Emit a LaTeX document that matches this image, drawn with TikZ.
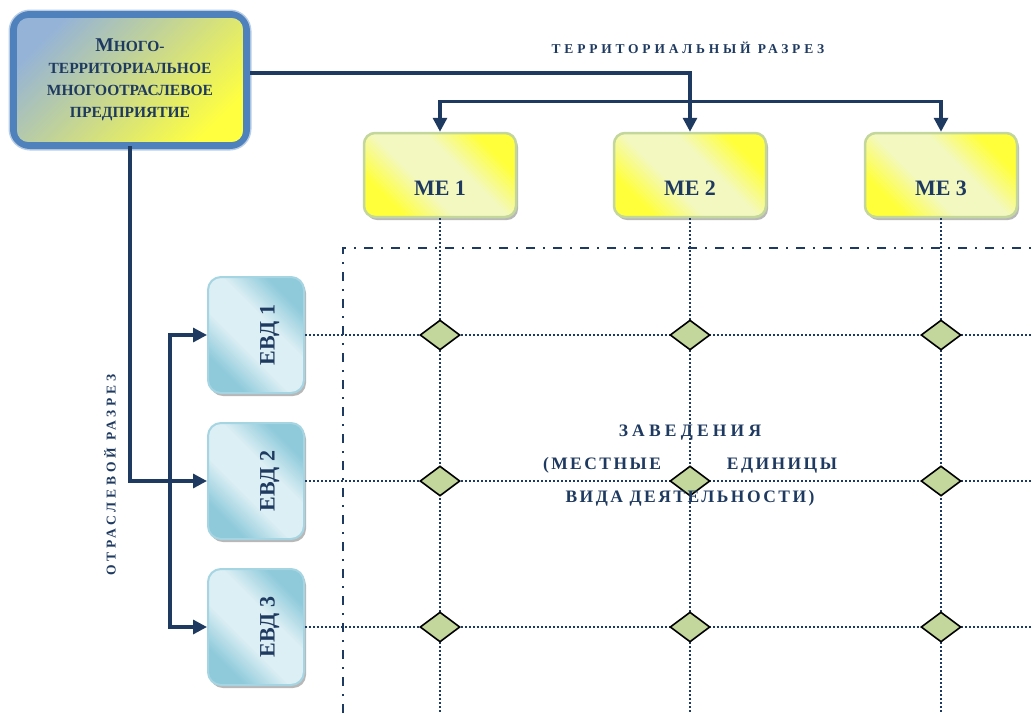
\documentclass[tikz,border=0pt]{standalone}
\usepackage{fontspec}
\setmainfont{Liberation Serif}
\usetikzlibrary{arrows.meta,shapes.geometric,shadows,calc}
\definecolor{navy}{HTML}{1F3A60}
\definecolor{mainblue}{HTML}{4F81BD}
\definecolor{halo}{HTML}{B9CDE5}
\definecolor{maintop}{HTML}{95B3D7}
\definecolor{mainbot}{HTML}{FFFF40}
\definecolor{meyel}{HTML}{FFFF3A}
\definecolor{mepale}{HTML}{F3F8C0}
\definecolor{meborder}{HTML}{C3D69B}
\definecolor{evdedge}{HTML}{8FCADB}
\definecolor{evdpale}{HTML}{DCEFF4}
\definecolor{evdborder}{HTML}{A5D5E2}
\definecolor{junc}{HTML}{C3D69B}
\pgfdeclarehorizontalshading{meshade}{100bp}{color(0bp)=(meyel); color(27bp)=(meyel); color(42bp)=(mepale); color(58bp)=(mepale); color(73bp)=(meyel); color(100bp)=(meyel)}
\pgfdeclarehorizontalshading{evdshade}{100bp}{color(0bp)=(evdedge); color(27bp)=(evdedge); color(42bp)=(evdpale); color(58bp)=(evdpale); color(73bp)=(evdedge); color(100bp)=(evdedge)}
\begin{document}
\begin{tikzpicture}[x=1pt,y=-1pt,
  >={Triangle[length=14pt,width=14pt]},
  conn/.style={draw=navy, line width=3.2pt},
  gridline/.style={draw=navy, line width=2.4pt, dash pattern=on 2pt off 2pt},
  framedash/.style={draw=navy, line width=2pt, dash pattern=on 9pt off 8pt on 2pt off 8pt},
  mainbox/.style={rectangle, rounded corners=17pt, draw=mainblue, line width=6pt,
    preaction={draw=halo, line width=9pt},
    top color=maintop, bottom color=mainbot, shading angle=45,
    minimum width=234pt, minimum height=132pt, inner sep=0pt, align=center,
    text=navy, font=\fontsize{15.5}{22}\selectfont\bfseries},
  mebox/.style={rectangle, rounded corners=11pt, draw=meborder, line width=2.5pt,
    shading=meshade, shading angle=45,
    drop shadow={shadow xshift=2pt, shadow yshift=-3pt, fill=black!35, opacity=0.8},
    minimum width=152pt, minimum height=84pt, inner sep=0pt,
    text height=41pt, text depth=0pt, text=navy,
    font=\fontsize{22}{22}\selectfont\bfseries},
  evdbox/.style={rectangle, rotate=90, rounded corners=13pt, draw=evdborder, line width=2pt,
    shading=evdshade, shading angle=45,
    drop shadow={shadow xshift=2pt, shadow yshift=-3pt, fill=black!35, opacity=0.8},
    minimum width=116pt, minimum height=96pt, inner sep=0pt,
    text height=37pt, text depth=0pt, text=navy,
    font=\fontsize{22}{22}\selectfont\bfseries},
  junction/.style={diamond, draw=black, line width=1.6pt, fill=junc,
    minimum width=40pt, minimum height=30pt, inner sep=0pt},
  lbl/.style={text=navy, inner sep=0pt,
    font=\fontsize{13.5}{15}\selectfont\bfseries\addfontfeature{LetterSpace=28}},
  ctext/.style={text=navy, inner sep=0pt, align=center,
    font=\fontsize{17.5}{33}\selectfont\bfseries\addfontfeature{LetterSpace=14}}
]
\useasboundingbox (0,0) rectangle (1033,713);
\coordinate (bot) at (0,713);
\coordinate (rt) at (1033,0);
\coordinate (fr) at (343,248);

% boxes
\node[mainbox] (main) at (130,80) {{\fontsize{19.5}{22}\selectfont М}НОГО-\\ТЕРРИТОРИАЛЬНОЕ\\МНОГООТРАСЛЕВОЕ\\ПРЕДПРИЯТИЕ};
\draw[mainblue, line width=1.8pt, rounded corners=12pt]
  ($(main.north west)+(6,6)$) rectangle ($(main.south east)+(-6,-6)$);

\node[mebox] (me1) at (440,175) {ME 1};
\node[mebox] (me2) at (690,175) {ME 2};
\node[mebox] (me3) at (941,175) {ME 3};

\node[evdbox] (evd1) at (256,335) {ЕВД 1};
\node[evdbox] (evd2) at (256,481) {ЕВД 2};
\node[evdbox] (evd3) at (256,627) {ЕВД 3};

% frame
\draw[framedash] (fr |- bot) -- (fr) -- (fr -| rt);

% grid
\foreach \m in {me1,me2,me3} \draw[gridline] (\m.south) -- (\m.south |- bot);
\foreach \e in {evd1,evd2,evd3} \draw[gridline] (\e.south) -- (\e.south -| rt);

% junctions
\foreach \m in {me1,me2,me3}
  \foreach \e in {evd1,evd2,evd3}
    \node[junction] (j-\m-\e) at (\m.south |- \e.south) {};

% connectors
\draw[conn,->] ([yshift=7pt]main.east) -| (me2.north);
\draw[conn,<->] (me1.north) -- ++(0,-30) -| (me3.north);
\draw[conn,->] ([yshift=3pt]main.south) |- (evd2.north);
\draw[conn,<->] (evd1.north) -- ++(-37,0) |- (evd3.north);

% labels
\node[lbl] (tlabel) at (688,48) {ТЕРРИТОРИАЛЬНЫЙ РАЗРЕЗ};
\node[lbl, rotate=90] (blabel) at (110,475) {ОТРАСЛЕВОЙ РАЗРЕЗ};
\node[ctext] (zav) at (690,466) {{\addfontfeature{LetterSpace=24}ЗАВЕДЕНИЯ}\\(МЕСТНЫЕ\hspace{66pt}ЕДИНИЦЫ\\ВИДА ДЕЯТЕЛЬНОСТИ)};
\end{tikzpicture}
\end{document}
